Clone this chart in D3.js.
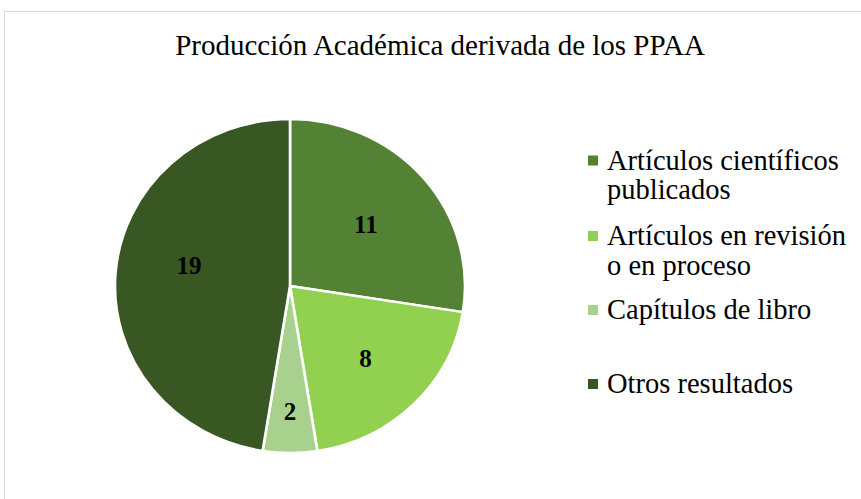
<!DOCTYPE html>
<html>
<head>
<meta charset="utf-8">
<script src="https://cdn.jsdelivr.net/npm/d3@7"></script>
<style>
  body { margin: 0; background: #fff; }
  svg { display: block; }
</style>
</head>
<body>
<svg id="chart" width="861" height="499"></svg>
<script>
// chart data
const categories = ["Artículos científicos publicados", "Artículos en revisión o en proceso", "Capítulos de libro", "Otros resultados"];
const legendLines = [["Artículos científicos", "publicados"], ["Artículos en revisión", "o en proceso"], ["Capítulos de libro"], ["Otros resultados"]];
const values = [11, 8, 2, 19];
const colors = ["#548235", "#92d050", "#a9d18e", "#385723"];
const title = "Producción Académica derivada de los PPAA";

const width = 861, height = 499;
const svg = d3.select("#chart");
const serif = "Liberation Serif";

// chart area border (runs off the right and bottom)
svg.append("rect")
    .attr("x", 4.5).attr("y", 11.5)
    .attr("width", 1000).attr("height", 1000)
    .attr("fill", "#fff")
    .attr("stroke", "#d9d9d9");

svg.append("text")
    .attr("x", 440).attr("y", 55)
    .attr("text-anchor", "middle")
    .style("font-family", serif)
    .attr("font-size", 29)
    .text(title);

// pie
const cx = 290, cy = 286, r = 167;
const pie = d3.pie().sort(null).value(d => d);
const arcs = pie(values);
const arc = d3.arc().innerRadius(0).outerRadius(r);

const g = svg.append("g")
    .attr("transform", `translate(${cx},${cy}) scale(1.048,1)`);

g.selectAll("path")
    .data(arcs)
    .enter()
    .append("path")
    .attr("d", arc)
    .attr("fill", (d, i) => colors[i])
    .attr("stroke", "#fff")
    .attr("stroke-width", 2.5)
    .attr("stroke-linejoin", "round");

// data labels (best-fit style: small slice pushed out, big one nudged up)
const labelFrac = [0.57, 0.61, 0.75, 0.59];
const labelTurn = [0, 0, 0, 0.13];
g.selectAll("text")
    .data(arcs)
    .enter()
    .append("text")
    .attr("transform", (d, i) => {
        const la = d3.arc().innerRadius(r * labelFrac[i]).outerRadius(r * labelFrac[i]);
        const [x, y] = la.centroid({ startAngle: d.startAngle + labelTurn[i], endAngle: d.endAngle + labelTurn[i] });
        return `translate(${x},${y}) scale(${1 / 1.048},1)`;
    })
    .attr("text-anchor", "middle")
    .attr("dy", "0.35em")
    .style("font-family", serif)
    .attr("font-weight", "bold")
    .attr("font-size", 25)
    .attr("fill", "#000")
    .text(d => d.data);

// legend
const legendY = [160.5, 236, 310, 384];
const item = svg.append("g").selectAll("g")
    .data(categories)
    .enter()
    .append("g")
    .attr("transform", (d, i) => `translate(588,${legendY[i]})`);

item.append("rect")
    .attr("x", 0).attr("y", -5)
    .attr("width", 10).attr("height", 10)
    .attr("fill", (d, i) => colors[i]);

item.selectAll("text")
    .data((d, i) => legendLines[i])
    .enter()
    .append("text")
    .attr("x", 19)
    .attr("y", (d, j) => 9 + j * 29.5)
    .style("font-family", serif)
    .attr("font-size", 28.5)
    .attr("fill", "#000")
    .text(d => d);
</script>
</body>
</html>
